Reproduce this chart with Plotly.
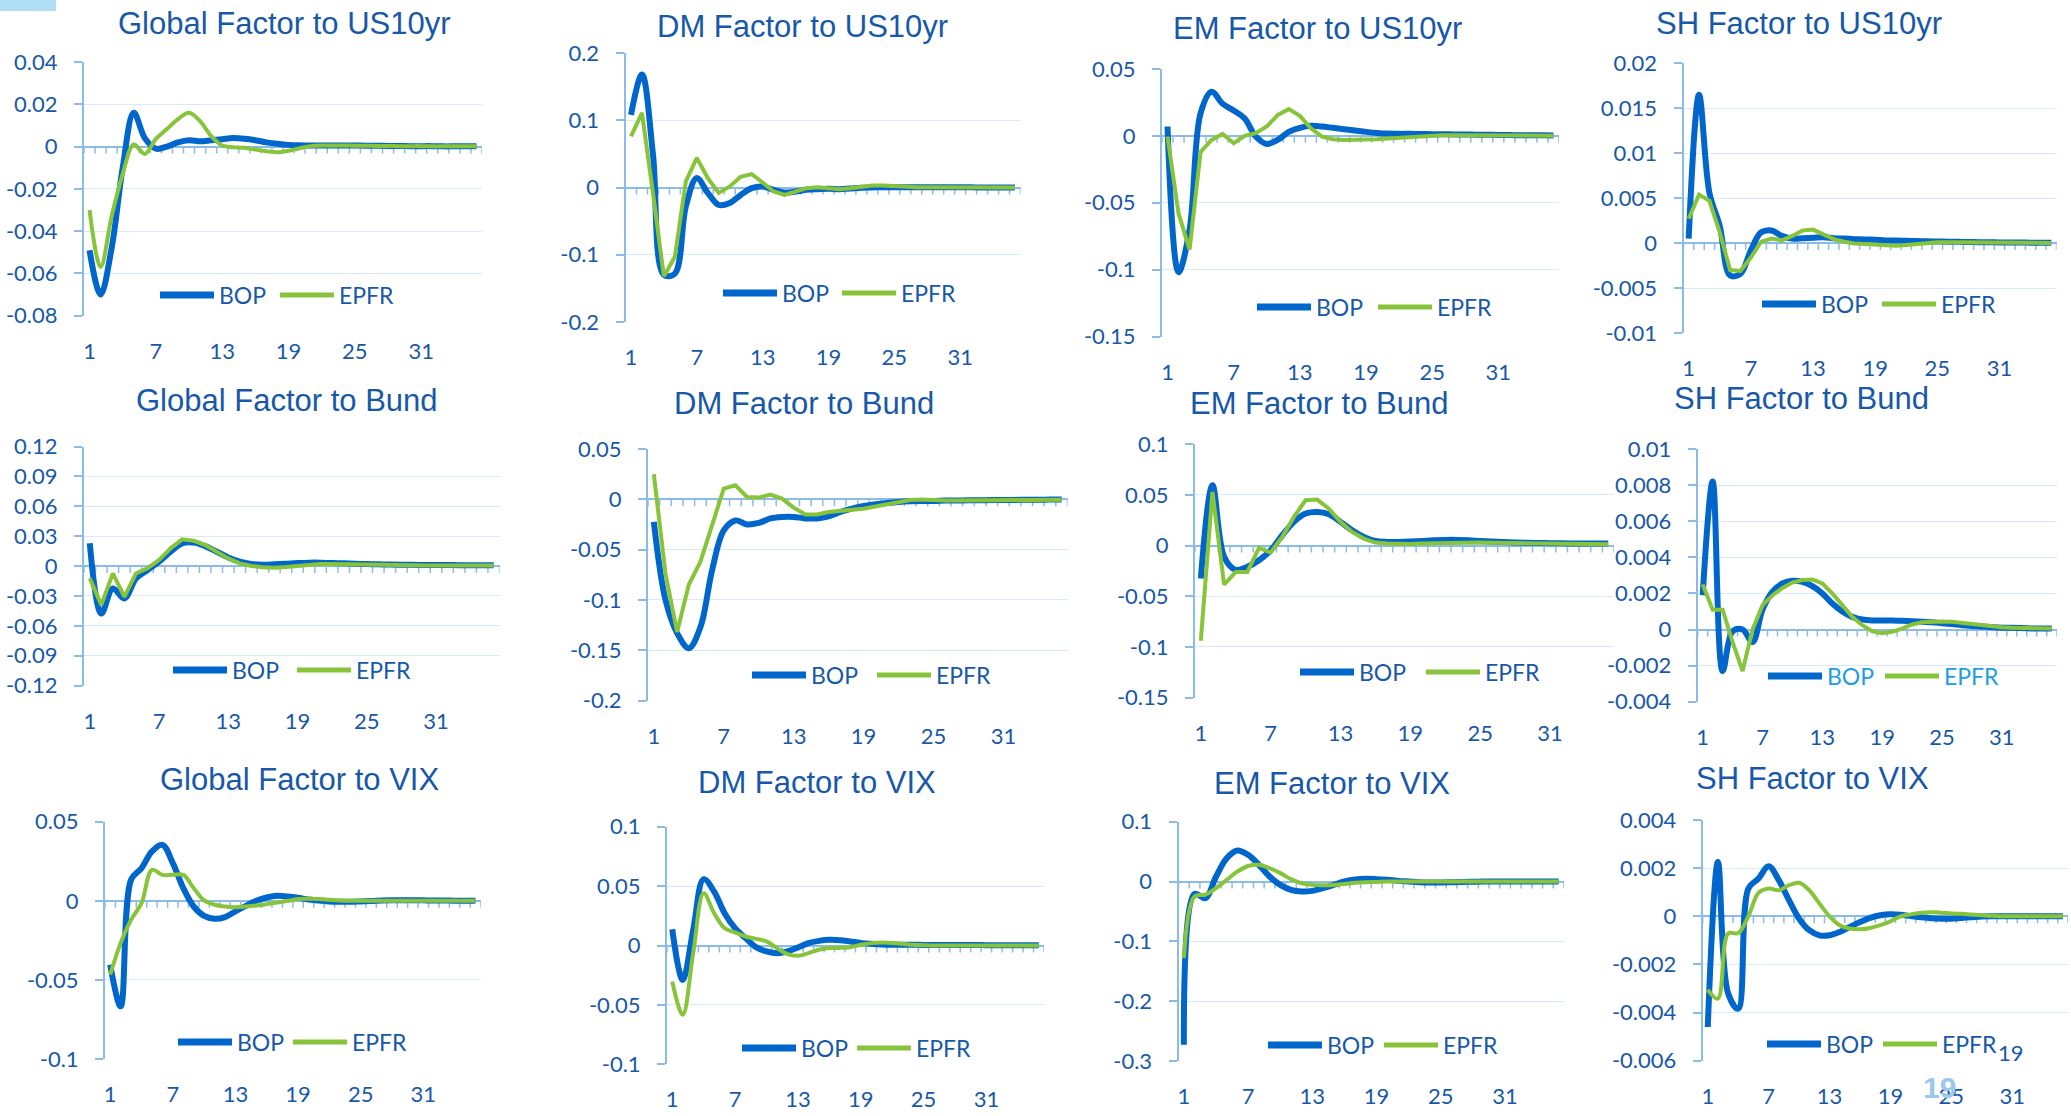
import plotly.graph_objects as go

W, H = 2071, 1116

# ---------------------------------------------------------------- data
periods = list(range(1, 37))
period_ticks = [1, 7, 13, 19, 25, 31]
series_names = ["BOP", "EPFR"]

titles = [
    "Global Factor to US10yr", "DM Factor to US10yr", "EM Factor to US10yr", "SH Factor to US10yr",
    "Global Factor to Bund", "DM Factor to Bund", "EM Factor to Bund", "SH Factor to Bund",
    "Global Factor to VIX", "DM Factor to VIX", "EM Factor to VIX", "SH Factor to VIX",
]

global_us10yr_bop = [-0.049, -0.070, -0.048, -0.010, 0.016, 0.004, -0.001, 0.000, 0.002, 0.003, 0.0025, 0.003,
                     0.0035, 0.004, 0.0037, 0.003, 0.002, 0.0013, 0.0008, 0.0006, 0.0005, 0.0005, 0.0005, 0.0005,
                     0.0005, 0.0004, 0.0004, 0.0003, 0.0003, 0.0002, 0.0002, 0.0002, 0.0001, 0.0001, 0.0001, 0.0001]
global_us10yr_epfr = [-0.030, -0.057, -0.033, -0.013, 0.001, -0.0035, 0.0036, 0.0083, 0.013, 0.016, 0.012, 0.005,
                      0.0005, -0.0003, -0.0006, -0.0014, -0.0022, -0.0027, -0.002, -0.0008, 0.0002, 0.0005, 0.0005,
                      0.0005, 0.0004, 0.0004, 0.0003, 0.0003, 0.0002, 0.0002, 0.0002, 0.0001, 0.0001, 0.0001, 0.0001, 0.0001]

dm_us10yr_bop = [0.108, 0.168, 0.050, -0.130, -0.128, -0.028, 0.014, -0.008, -0.026, -0.023, -0.011, -0.001,
                 0.0015, -0.0035, -0.0075, -0.006, -0.0035, -0.0025, -0.002, -0.0025, -0.0015, -0.0005, 0.0, 0.0005,
                 0.0005, 0.0005, 0.0005, 0.0004, 0.0003, 0.0003, 0.0002, 0.0002, 0.0001, 0.0001, 0.0001, 0.0001]
dm_us10yr_epfr = [0.076, 0.111, -0.008, -0.132, -0.103, 0.009, 0.044, 0.014, -0.008, 0.0015, 0.016, 0.020,
                  0.0075, -0.006, -0.011, -0.006, -0.001, 0.0005, -0.001, -0.0025, -0.001, 0.0015, 0.003, 0.003,
                  0.002, 0.001, 0.0005, 0.0005, 0.0003, 0.0002, 0.0001, 0.0001, 0.0001, 0.0001, 0.0001, 0.0001]

em_us10yr_bop = [0.007, -0.102, -0.070, 0.017, 0.033, 0.024, 0.019, 0.013, -0.0005, -0.006, -0.003, 0.003,
                 0.006, 0.0075, 0.007, 0.006, 0.005, 0.004, 0.003, 0.0022, 0.0017, 0.0015, 0.0015, 0.0014,
                 0.0013, 0.0012, 0.0011, 0.001, 0.0009, 0.0008, 0.0007, 0.0006, 0.0005, 0.0004, 0.0004, 0.0003]
em_us10yr_epfr = [-0.0005, -0.058, -0.085, -0.012, -0.003, 0.0015, -0.0055, 0.0, 0.002, 0.007, 0.0157, 0.020,
                  0.015, 0.0057, -0.0005, -0.0025, -0.003, -0.003, -0.0027, -0.0025, -0.002, -0.0015, -0.0008,
                  -0.0002, 0.0002, 0.0005, 0.0005, 0.0005, 0.0005, 0.0005, 0.0004, 0.0003, 0.0002, 0.0002, 0.0001, 0.0001]

sh_us10yr_bop = [0.0005, 0.0165, 0.0056, 0.0019, -0.0036, -0.0034, -0.0008, 0.0012, 0.0014, 0.0008, 0.0005, 0.00055,
                 0.0006, 0.00066, 0.00055, 0.0005, 0.00044, 0.0004, 0.00037, 0.0003, 0.0003, 0.00025, 0.00022, 0.0002,
                 0.00018, 0.00016, 0.00014, 0.00012, 0.0001, 0.0001, 0.00008, 0.00007, 0.00006, 0.00005, 0.00005, 0.00004]
sh_us10yr_epfr = [0.0027, 0.0054, 0.0047, 0.0012, -0.003, -0.0031, -0.0016, 0.00015, 0.0005, 0.0003, 0.0008, 0.0014,
                  0.0015, 0.001, 0.00044, 0.00015, -0.00004, -0.0001, -0.0002, -0.0003, -0.0003, -0.0002, -0.0001,
                  0.00004, 0.0001, 0.0001, 0.0001, 0.0001, 0.00008, 0.00006, 0.00005, 0.00004, 0.00003, 0.00002,
                  0.00002, 0.00001]

global_bund_bop = [0.0228, -0.0476, -0.0225, -0.0325, -0.0124, -0.004, 0.0044, 0.0144, 0.0228, 0.0235, 0.020, 0.0144,
                   0.0087, 0.0044, 0.002, 0.0013, 0.0017, 0.0023, 0.003, 0.0034, 0.0034, 0.003, 0.0027, 0.0023,
                   0.002, 0.0017, 0.0015, 0.0013, 0.0012, 0.0011, 0.001, 0.001, 0.0009, 0.0009, 0.0008, 0.0008]
global_bund_epfr = [-0.0124, -0.039, -0.0074, -0.031, -0.0074, -0.0023, 0.006, 0.0178, 0.0268, 0.0255, 0.021, 0.0144,
                    0.0077, 0.0027, 0.0, -0.0013, -0.0017, -0.001, 0.0003, 0.0013, 0.002, 0.002, 0.0017, 0.0013,
                    0.001, 0.0009, 0.0008, 0.0007, 0.0007, 0.0006, 0.0006, 0.0005, 0.0005, 0.0005, 0.0005, 0.0005]

dm_bund_bop = [-0.0225, -0.100, -0.133, -0.148, -0.127, -0.0705, -0.031, -0.021, -0.025, -0.0235, -0.019, -0.0175,
               -0.0175, -0.019, -0.019, -0.017, -0.0126, -0.0093, -0.0066, -0.005, -0.0036, -0.0026, -0.002, -0.0017,
               -0.0017, -0.0013, -0.0012, -0.001, -0.0009, -0.0008, -0.0007, -0.0006, -0.0005, -0.0004, -0.0003, -0.0003]
dm_bund_epfr = [0.025, -0.074, -0.132, -0.085, -0.062, -0.024, 0.0106, 0.014, 0.0023, 0.0017, 0.0046, 0.0007,
                -0.0083, -0.015, -0.015, -0.0126, -0.011, -0.0103, -0.0093, -0.007, -0.0043, -0.002, -0.0007, -0.0003,
                -0.001, -0.0013, -0.0013, -0.001, -0.0009, -0.0008, -0.0007, -0.0006, -0.0006, -0.0005, -0.0005, -0.0005]

em_bund_bop = [-0.0326, 0.0595, -0.011, -0.024, -0.021, -0.0145, -0.0046, 0.0102, 0.0234, 0.0316, 0.0332, 0.031,
               0.0234, 0.0151, 0.0086, 0.0046, 0.0036, 0.0036, 0.004, 0.0046, 0.0053, 0.0056, 0.0056, 0.0053,
               0.0046, 0.004, 0.0035, 0.0031, 0.0028, 0.0026, 0.0024, 0.0022, 0.0021, 0.002, 0.002, 0.002]
em_bund_epfr = [-0.094, 0.053, -0.0385, -0.026, -0.026, -0.0023, -0.0069, 0.0086, 0.0283, 0.0447, 0.0454, 0.0365,
                0.0234, 0.0135, 0.0069, 0.003, 0.002, 0.0016, 0.0016, 0.002, 0.0023, 0.003, 0.0033, 0.0033,
                0.003, 0.0027, 0.0025, 0.0023, 0.0021, 0.0019, 0.0017, 0.0015, 0.0014, 0.0013, 0.0012, 0.0012]

sh_bund_bop = [0.0019, 0.0082, -0.0023, -0.0001, 0.0, -0.0007, 0.0011, 0.0021, 0.00255, 0.0027, 0.00264, 0.0024,
               0.002, 0.00144, 0.001, 0.0007, 0.00055, 0.0005, 0.0005, 0.0005, 0.00048, 0.00046, 0.00043, 0.0004,
               0.00035, 0.0003, 0.00024, 0.0002, 0.00017, 0.00013, 0.0001, 0.0001, 0.00008, 0.00006, 0.00005, 0.00005]
sh_bund_epfr = [0.0025, 0.0011, 0.0011, -0.0007, -0.0023, 0.0, 0.00135, 0.0019, 0.0023, 0.0026, 0.00274, 0.00277,
                0.00255, 0.002, 0.00135, 0.0007, 0.00024, -0.0001, -0.0002, -0.00013, 0.00005, 0.00028, 0.0004,
                0.00044, 0.00044, 0.00043, 0.00037, 0.0003, 0.00022, 0.00017, 0.00013, 0.0001, 0.00008, 0.00006,
                0.00005, 0.00005]

global_vix_bop = [-0.0404, -0.0667, 0.0133, 0.0206, 0.0312, 0.0354, 0.0238, 0.008, -0.0036, -0.0095, -0.0114, -0.0103,
                  -0.0067, -0.0032, 0.0, 0.0021, 0.0032, 0.0027, 0.0019, 0.0008, 0.0002, -0.0004, -0.0006, -0.0006,
                  -0.0004, -0.0002, 0.0002, 0.0004, 0.0004, 0.0004, 0.0003, 0.0002, 0.0002, 0.0001, 0.0001, 0.0001]
global_vix_epfr = [-0.0467, -0.0267, -0.012, -0.0015, 0.0196, 0.0164, 0.0164, 0.0164, 0.008, 0.0002, -0.0025, -0.0036,
                   -0.004, -0.0036, -0.003, -0.0021, -0.0011, 0.0, 0.0011, 0.0013, 0.0011, 0.0006, 0.0002, 0.0,
                   0.0, 0.0, 0.0001, 0.0001, 0.0001, 0.0001, 0.0001, 0.0, 0.0, 0.0, 0.0, 0.0]

dm_vix_bop = [0.0137, -0.029, 0.013, 0.0558, 0.0454, 0.0272, 0.0146, 0.0062, -0.0014, -0.005, -0.0065, -0.005,
              -0.0017, 0.002, 0.0039, 0.0048, 0.0045, 0.0034, 0.0022, 0.0014, 0.0008, 0.0006, 0.0006, 0.0006,
              0.0005, 0.0005, 0.0005, 0.0004, 0.0004, 0.0004, 0.0003, 0.0003, 0.0003, 0.0002, 0.0002, 0.0002]
dm_vix_epfr = [-0.0303, -0.0583, -0.0065, 0.044, 0.0272, 0.0146, 0.011, 0.0076, 0.0056, 0.0034, -0.0022, -0.0073,
               -0.0087, -0.0064, -0.0036, -0.0022, -0.002, -0.0014, 0.0006, 0.002, 0.0025, 0.0022, 0.0014, 0.0006,
               0.0003, 0.0, 0.0, 0.0, 0.0, 0.0, 0.0, 0.0, 0.0, 0.0, 0.0, 0.0]

em_vix_bop = [-0.273, -0.0206, -0.028, 0.008, 0.039, 0.052, 0.0446, 0.028, 0.0084, -0.0056, -0.014, -0.0167,
              -0.0156, -0.011, -0.0056, 0.0, 0.0033, 0.0045, 0.004, 0.0028, 0.0011, 0.0, -0.0011, -0.0017,
              -0.0017, -0.0011, -0.0006, -0.0003, 0.0, 0.0, 0.0, 0.0, 0.0, 0.0, 0.0, 0.0]
em_vix_epfr = [-0.128, -0.025, -0.022, -0.011, 0.0028, 0.0167, 0.026, 0.028, 0.0223, 0.014, 0.004, -0.0028,
               -0.0056, -0.0061, -0.0056, -0.004, -0.0022, -0.0011, -0.0006, 0.0, 0.0, 0.0, 0.0, 0.0,
               0.0, 0.0, 0.0, 0.0, 0.0, 0.0, 0.0, 0.0, 0.0, 0.0, 0.0, 0.0]

sh_vix_bop = [-0.0046, 0.00226, -0.0032, -0.00384, 0.00115, 0.00157, 0.00208, 0.0015, 0.00067, -0.0001, -0.00058,
              -0.00079, -0.00079, -0.00065, -0.00044, -0.00024, -0.00007, 0.00004, 0.00008, 0.00006, 0.00001,
              -0.00004, -0.00008, -0.0001, -0.0001, -0.00007, -0.00004, -0.00001, 0.0, 0.0, 0.0, 0.0, 0.0, 0.0, 0.0, 0.0]
sh_vix_epfr = [-0.00305, -0.00342, -0.00072, -0.0007, 0.0, 0.00097, 0.00115, 0.00108, 0.00129, 0.00139, 0.00108,
               0.00053, 0.0, -0.00037, -0.00051, -0.00054, -0.00049, -0.00037, -0.00021, 0.0, 0.00008, 0.00015,
               0.00017, 0.00015, 0.00012, 0.0001, 0.00007, 0.00004, 0.00002, 0.0, 0.0, 0.0, 0.0, 0.0, 0.0, 0.0]

# y-axis tick values per panel
yticks_global_us10yr = [-0.08, -0.06, -0.04, -0.02, 0, 0.02, 0.04]
yticks_dm_us10yr = [-0.2, -0.1, 0, 0.1, 0.2]
yticks_em_us10yr = [-0.15, -0.1, -0.05, 0, 0.05]
yticks_sh_us10yr = [-0.01, -0.005, 0, 0.005, 0.01, 0.015, 0.02]
yticks_global_bund = [-0.12, -0.09, -0.06, -0.03, 0, 0.03, 0.06, 0.09, 0.12]
yticks_dm_bund = [-0.2, -0.15, -0.1, -0.05, 0, 0.05]
yticks_em_bund = [-0.15, -0.1, -0.05, 0, 0.05, 0.1]
yticks_sh_bund = [-0.004, -0.002, 0, 0.002, 0.004, 0.006, 0.008, 0.01]
yticks_global_vix = [-0.1, -0.05, 0, 0.05]
yticks_dm_vix = [-0.1, -0.05, 0, 0.05, 0.1]
yticks_em_vix = [-0.3, -0.2, -0.1, 0, 0.1]
yticks_sh_vix = [-0.006, -0.004, -0.002, 0, 0.002, 0.004]

page_number = "19"

# ---------------------------------------------------------------- styling
BLUE = "#0066CC"
GREEN = "#88C43A"
TEXT = "#1858A8"
LEGEND_LIGHT = "#1E9DE3"
AXIS = "#8DBBE8"
GRID = "#D8EAF8"
TICK_FONT = dict(family="Lato, 'Open Sans', sans-serif", size=22, color=TEXT)
TITLE_FONT = dict(family="'Liberation Sans', Arial, sans-serif", size=31, color=TEXT)


def px(x):
    return x / W


def py(y):
    return 1 - y / H


def fmt(v):
    if abs(v) < 1e-12:
        return "0"
    return f"{v:.3f}".rstrip("0").rstrip(".")


# panel: title, series, y ticks, EPFR line shape,
#        plot box (left, top, right, bottom), title centre, legend (y, bop line x, epfr line x), legend colour
panels = [
    (titles[0], global_us10yr_bop, global_us10yr_epfr, yticks_global_us10yr, "spline",
     (84, 62, 482, 315.7), (284, 24), (295, 160, 280), TEXT),
    (titles[1], dm_us10yr_bop, dm_us10yr_epfr, yticks_dm_us10yr, "linear",
     (625.5, 53, 1020.5, 322), (802, 27), (293, 723, 842), TEXT),
    (titles[2], em_us10yr_bop, em_us10yr_epfr, yticks_em_us10yr, "linear",
     (1162, 69, 1559, 336.5), (1317, 28), (307, 1257, 1378), TEXT),
    (titles[3], sh_us10yr_bop, sh_us10yr_epfr, yticks_sh_us10yr, "linear",
     (1683.5, 63.3, 2056.5, 333), (1799, 23), (304, 1762, 1882), TEXT),
    (titles[4], global_bund_bop, global_bund_epfr, yticks_global_bund, "linear",
     (84, 446.5, 499.5, 685.6), (287, 400), (670, 173, 297), TEXT),
    (titles[5], dm_bund_bop, dm_bund_epfr, yticks_dm_bund, "linear",
     (648, 449, 1067.5, 700.5), (804, 403), (675, 752, 877), TEXT),
    (titles[6], em_bund_bop, em_bund_epfr, yticks_em_bund, "linear",
     (1195, 444.3, 1614, 697.5), (1319, 403), (672, 1300, 1426), TEXT),
    (titles[7], sh_bund_bop, sh_bund_epfr, yticks_sh_bund, "linear",
     (1697.7, 449, 2056.7, 701.7), (1801, 398), (676, 1768, 1885), LEGEND_LIGHT),
    (titles[8], global_vix_bop, global_vix_epfr, yticks_global_vix, "spline",
     (105, 821.7, 480.7, 1059), (299, 779), (1042, 178, 293), TEXT),
    (titles[9], dm_vix_bop, dm_vix_epfr, yticks_dm_vix, "spline",
     (667, 826.7, 1044, 1064.3), (817, 782), (1048, 742, 857), TEXT),
    (titles[10], em_vix_bop, em_vix_epfr, yticks_em_vix, "spline",
     (1178.5, 821.7, 1564, 1061), (1332, 783), (1045, 1268, 1384), TEXT),
    (titles[11], sh_vix_bop, sh_vix_epfr, yticks_sh_vix, "spline",
     (1702.7, 820, 2068, 1060.7), (1812, 778), (1044, 1767, 1883), TEXT),
]

fig = go.Figure()
layout = dict(
    template="none",
    width=W, height=H, autosize=False,
    margin=dict(l=0, r=0, t=0, b=0, pad=0, autoexpand=False),
    paper_bgcolor="white", plot_bgcolor="white",
    showlegend=False,
)
shapes = []
annotations = []

LEG_LEN = 54

for i, (title, bop, epfr, yt, epfr_shape, box, tpos, leg, leg_color) in enumerate(panels, start=1):
    left, top, right, bottom = box
    xs = "x" if i == 1 else f"x{i}"
    ys = "y" if i == 1 else f"y{i}"
    xkey = "xaxis" if i == 1 else f"xaxis{i}"
    ykey = "yaxis" if i == 1 else f"yaxis{i}"

    fig.add_trace(go.Scatter(
        x=periods, y=bop, name=series_names[0], xaxis=xs, yaxis=ys, mode="lines",
        line=dict(color=BLUE, width=6, shape="spline", smoothing=1.0), hoverinfo="skip"))
    green_line = dict(color=GREEN, width=4, shape=epfr_shape)
    if epfr_shape == "spline":
        green_line["smoothing"] = 1.0
    fig.add_trace(go.Scatter(
        x=periods, y=epfr, name=series_names[1], xaxis=xs, yaxis=ys, mode="lines",
        line=green_line, hoverinfo="skip"))

    layout[xkey] = dict(
        domain=[px(left), px(right)], range=[0.5, len(periods) + 0.5], anchor=ys,
        tickmode="array", tickvals=period_ticks, ticktext=[str(v) for v in period_ticks],
        showgrid=False, zeroline=False, showline=False, ticks="", automargin=False,
        tickfont=TICK_FONT, ticklabelstandoff=20, fixedrange=True,
    )
    layout[ykey] = dict(
        domain=[py(bottom), py(top)], range=[yt[0], yt[-1]], anchor=xs,
        tickmode="array", tickvals=yt, ticktext=[fmt(v) for v in yt],
        showgrid=True, gridcolor=GRID, gridwidth=1.2,
        zeroline=True, zerolinecolor=AXIS, zerolinewidth=2,
        showline=True, linecolor=AXIS, linewidth=2,
        ticks="outside", ticklen=8, tickwidth=1.5, tickcolor=AXIS, automargin=False,
        tickfont=TICK_FONT, ticklabelstandoff=12, fixedrange=True,
    )

    # small category tick marks hanging below the zero line
    for k in range(len(periods) + 1):
        shapes.append(dict(
            type="line", xref=xs, yref=ys, x0=k + 0.5, x1=k + 0.5,
            ysizemode="pixel", yanchor=0, y0=0, y1=-7,
            line=dict(color=AXIS, width=1.5), layer="below"))

    # chart title
    annotations.append(dict(
        text=title, xref="paper", yref="paper", x=px(tpos[0]), y=py(tpos[1]),
        xanchor="center", yanchor="middle", showarrow=False, font=TITLE_FONT))

    # legend: line sample + label for each series
    ly, bx, gx = leg
    shapes.append(dict(type="line", xref="paper", yref="paper",
                       x0=px(bx), x1=px(bx + LEG_LEN), y0=py(ly), y1=py(ly),
                       line=dict(color=BLUE, width=7)))
    shapes.append(dict(type="line", xref="paper", yref="paper",
                       x0=px(gx), x1=px(gx + LEG_LEN), y0=py(ly), y1=py(ly),
                       line=dict(color=GREEN, width=5)))
    leg_font = dict(family="Lato, 'Open Sans', sans-serif", size=23, color=leg_color)
    for name, lx in ((series_names[0], bx), (series_names[1], gx)):
        annotations.append(dict(
            text=name, xref="paper", yref="paper", x=px(lx + LEG_LEN + 3), y=py(ly),
            xanchor="left", yanchor="middle", showarrow=False, font=leg_font))

# slide decoration: corner tab and page numbers
shapes.append(dict(type="rect", xref="paper", yref="paper", x0=0, x1=px(56), y0=py(11), y1=1,
                   fillcolor="#AEDEF5", line=dict(width=0), layer="below"))
annotations.append(dict(
    text=f"<b>{page_number}</b>", xref="paper", yref="paper", x=px(1939), y=py(1087),
    xanchor="center", yanchor="middle", showarrow=False,
    font=dict(family="'Liberation Sans', Arial, sans-serif", size=30, color="#9CC8EC")))
annotations.append(dict(
    text=page_number, xref="paper", yref="paper", x=px(2011), y=py(1052),
    xanchor="center", yanchor="middle", showarrow=False,
    font=dict(family="Lato, 'Open Sans', sans-serif", size=22, color=TEXT)))

layout["shapes"] = shapes
layout["annotations"] = annotations
fig.update_layout(**layout)

fig.write_html("out.html", config={"displayModeBar": False})
